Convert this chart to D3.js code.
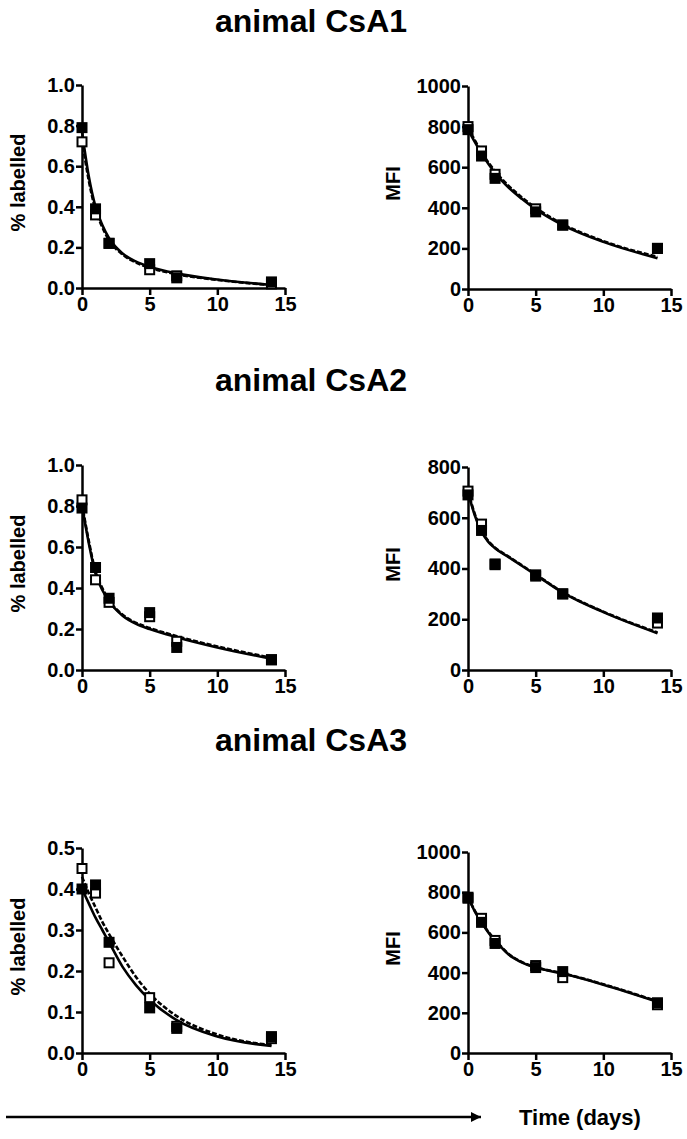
<!DOCTYPE html>
<html><head><meta charset="utf-8">
<script src="https://cdn.jsdelivr.net/npm/d3@7"></script>
<style>body{margin:0;background:#fff}svg{display:block}text{font-family:"Liberation Sans",Arial,sans-serif;font-weight:bold;fill:#000}</style>
</head><body>
<script>
// ---- data ----
const titles = ["animal CsA1", "animal CsA2", "animal CsA3"];
const days = [0, 1, 2, 5, 7, 14];
const xTicks = [0, 5, 10, 15];
const curveDays = [0, 0.5, 1, 1.5, 2, 3, 4, 5, 7, 10, 14];

// CsA1 % labelled
const a1PctFilled = [0.79, 0.39, 0.22, 0.12, 0.05, 0.03];
const a1PctOpen   = [0.72, 0.36, 0.22, 0.09, 0.06, 0.02];
const a1PctSolid  = [0.77, 0.55, 0.40, 0.31, 0.245, 0.17, 0.13, 0.105, 0.072, 0.042, 0.015];
const a1PctDashed = [0.73, 0.53, 0.385, 0.30, 0.235, 0.165, 0.125, 0.10, 0.068, 0.040, 0.014];
// CsA1 MFI
const a1MfiFilled = [785, 655, 545, 380, 315, 200];
const a1MfiOpen   = [800, 680, 565, 395, 315, 200];
const a1MfiSolid  = [785, 725, 668, 617, 572, 500, 443, 393, 315, 232, 152];
const a1MfiDashed = [795, 733, 675, 624, 580, 508, 450, 400, 320, 236, 158];
// CsA2 % labelled
const a2PctFilled = [0.79, 0.50, 0.35, 0.28, 0.11, 0.05];
const a2PctOpen   = [0.83, 0.44, 0.33, 0.26, 0.14, 0.05];
const a2PctSolid  = [0.80, 0.62, 0.47, 0.39, 0.335, 0.265, 0.225, 0.20, 0.16, 0.11, 0.055];
const a2PctDashed = [0.81, 0.63, 0.48, 0.40, 0.34, 0.27, 0.23, 0.205, 0.165, 0.115, 0.06];
// CsA2 MFI
const a2MfiFilled = [690, 550, 415, 370, 300, 205];
const a2MfiOpen   = [705, 575, 418, 375, 300, 185];
const a2MfiSolid  = [700, 610, 545, 505, 480, 445, 410, 375, 305, 228, 145];
const a2MfiDashed = [705, 615, 550, 508, 482, 447, 412, 377, 307, 230, 148];
// CsA3 % labelled
const a3PctFilled = [0.40, 0.41, 0.27, 0.11, 0.06, 0.04];
const a3PctOpen   = [0.45, 0.39, 0.22, 0.135, 0.065, 0.035];
const a3PctSolid  = [0.40, 0.365, 0.33, 0.30, 0.27, 0.21, 0.165, 0.13, 0.08, 0.04, 0.017];
const a3PctDashed = [0.43, 0.39, 0.355, 0.32, 0.29, 0.235, 0.185, 0.145, 0.09, 0.045, 0.019];
// CsA3 MFI
const a3MfiFilled = [770, 650, 545, 425, 405, 250];
const a3MfiOpen   = [775, 670, 560, 435, 375, 240];
const a3MfiSolid  = [775, 705, 650, 600, 560, 490, 450, 425, 395, 340, 255];
const a3MfiDashed = [778, 708, 653, 603, 563, 493, 452, 427, 397, 342, 257];

const pctTicks1 = [0.0, 0.2, 0.4, 0.6, 0.8, 1.0];
const pctTicks3 = [0.0, 0.1, 0.2, 0.3, 0.4, 0.5];
const mfiTicks1000 = [0, 200, 400, 600, 800, 1000];
const mfiTicks800 = [0, 200, 400, 600, 800];

const panels = [
  {left: 82, top: 85, bottom: 288, ymax: 1.0, yt: pctTicks1, fmt: d3.format(".1f"), label: "% labelled", lx: 25, filled: a1PctFilled, open: a1PctOpen, solid: a1PctSolid, dashed: a1PctDashed},
  {left: 468, top: 86, bottom: 289, ymax: 1000, yt: mfiTicks1000, fmt: d3.format("d"), label: "MFI", lx: 400, filled: a1MfiFilled, open: a1MfiOpen, solid: a1MfiSolid, dashed: a1MfiDashed},
  {left: 82, top: 465, bottom: 670, ymax: 1.0, yt: pctTicks1, fmt: d3.format(".1f"), label: "% labelled", lx: 25, filled: a2PctFilled, open: a2PctOpen, solid: a2PctSolid, dashed: a2PctDashed},
  {left: 468, top: 467, bottom: 670, ymax: 800, yt: mfiTicks800, fmt: d3.format("d"), label: "MFI", lx: 400, filled: a2MfiFilled, open: a2MfiOpen, solid: a2MfiSolid, dashed: a2MfiDashed},
  {left: 82, top: 848, bottom: 1053, ymax: 0.5, yt: pctTicks3, fmt: d3.format(".1f"), label: "% labelled", lx: 25, filled: a3PctFilled, open: a3PctOpen, solid: a3PctSolid, dashed: a3PctDashed},
  {left: 468, top: 852, bottom: 1053, ymax: 1000, yt: mfiTicks1000, fmt: d3.format("d"), label: "MFI", lx: 400, filled: a3MfiFilled, open: a3MfiOpen, solid: a3MfiSolid, dashed: a3MfiDashed}
];
const xWidth = 203;
const titleY = [32, 391, 751];

const svg = d3.select("body").append("svg").attr("width", 687).attr("height", 1139);

titles.forEach((t, i) => {
  svg.append("text").attr("x", 311).attr("y", titleY[i]).attr("text-anchor", "middle")
    .style("font-size", "32px").text(t);
});

panels.forEach(p => {
  const g = svg.append("g");
  const x = d3.scaleLinear().domain([0, 15]).range([p.left, p.left + xWidth]);
  const y = d3.scaleLinear().domain([0, p.ymax]).range([p.bottom, p.top]);

  const yAxis = g.append("g").attr("transform", `translate(${p.left},0)`)
    .call(d3.axisLeft(y).tickValues(p.yt).tickFormat(p.fmt).tickSize(6).tickPadding(1).tickSizeOuter(0));
  const xAxis = g.append("g").attr("transform", `translate(0,${p.bottom})`)
    .call(d3.axisBottom(x).tickValues(xTicks).tickSize(7).tickPadding(2).tickSizeOuter(0));
  [yAxis, xAxis].forEach(a => {
    a.select(".domain").attr("stroke", "#000").attr("stroke-width", 2.5);
    a.selectAll(".tick line").attr("stroke", "#000").attr("stroke-width", 2.5);
    a.selectAll(".tick text").style("font-size", "20px").style("font-family", '"Liberation Sans",Arial,sans-serif').attr("font-weight", "bold").attr("fill", "#000");
  });

  g.append("text").attr("transform", `translate(${p.lx},${(p.top + p.bottom) / 2 - 4}) rotate(-90)`)
    .attr("text-anchor", "middle").style("font-size", "20px").text(p.label);

  const line = d3.line().x((d, i) => x(curveDays[i])).y(d => y(d)).curve(d3.curveMonotoneX);
  g.append("path").datum(p.dashed).attr("d", line).attr("fill", "none").attr("stroke", "#000")
    .attr("stroke-width", 2.6).attr("stroke-dasharray", "5,2");
  g.append("path").datum(p.solid).attr("d", line).attr("fill", "none").attr("stroke", "#000")
    .attr("stroke-width", 2.6);

  const s = 9;
  g.selectAll(".open").data(p.open).enter().append("rect")
    .attr("x", (d, i) => x(days[i]) - s / 2).attr("y", d => y(d) - s / 2)
    .attr("width", s).attr("height", s).attr("fill", "#fff").attr("stroke", "#000").attr("stroke-width", 2);
  g.selectAll(".filled").data(p.filled).enter().append("rect")
    .attr("x", (d, i) => x(days[i]) - 5.5).attr("y", d => y(d) - 5.5)
    .attr("width", 11).attr("height", 11).attr("fill", "#000");
});

// bottom arrow and label
svg.append("defs").append("marker").attr("id", "ah").attr("viewBox", "0 0 10 10")
  .attr("refX", 10).attr("refY", 5).attr("markerWidth", 14).attr("markerHeight", 10)
  .attr("markerUnits", "userSpaceOnUse").attr("orient", "auto")
  .append("path").attr("d", "M0,0 L10,5 L0,10 Z").attr("fill", "#000");
svg.append("line").attr("x1", 6).attr("x2", 481).attr("y1", 1117).attr("y2", 1117)
  .attr("stroke", "#000").attr("stroke-width", 2.5).attr("marker-end", "url(#ah)");
svg.append("text").attr("x", 519).attr("y", 1125).style("font-size", "22px").text("Time (days)");
</script>
</body></html>
